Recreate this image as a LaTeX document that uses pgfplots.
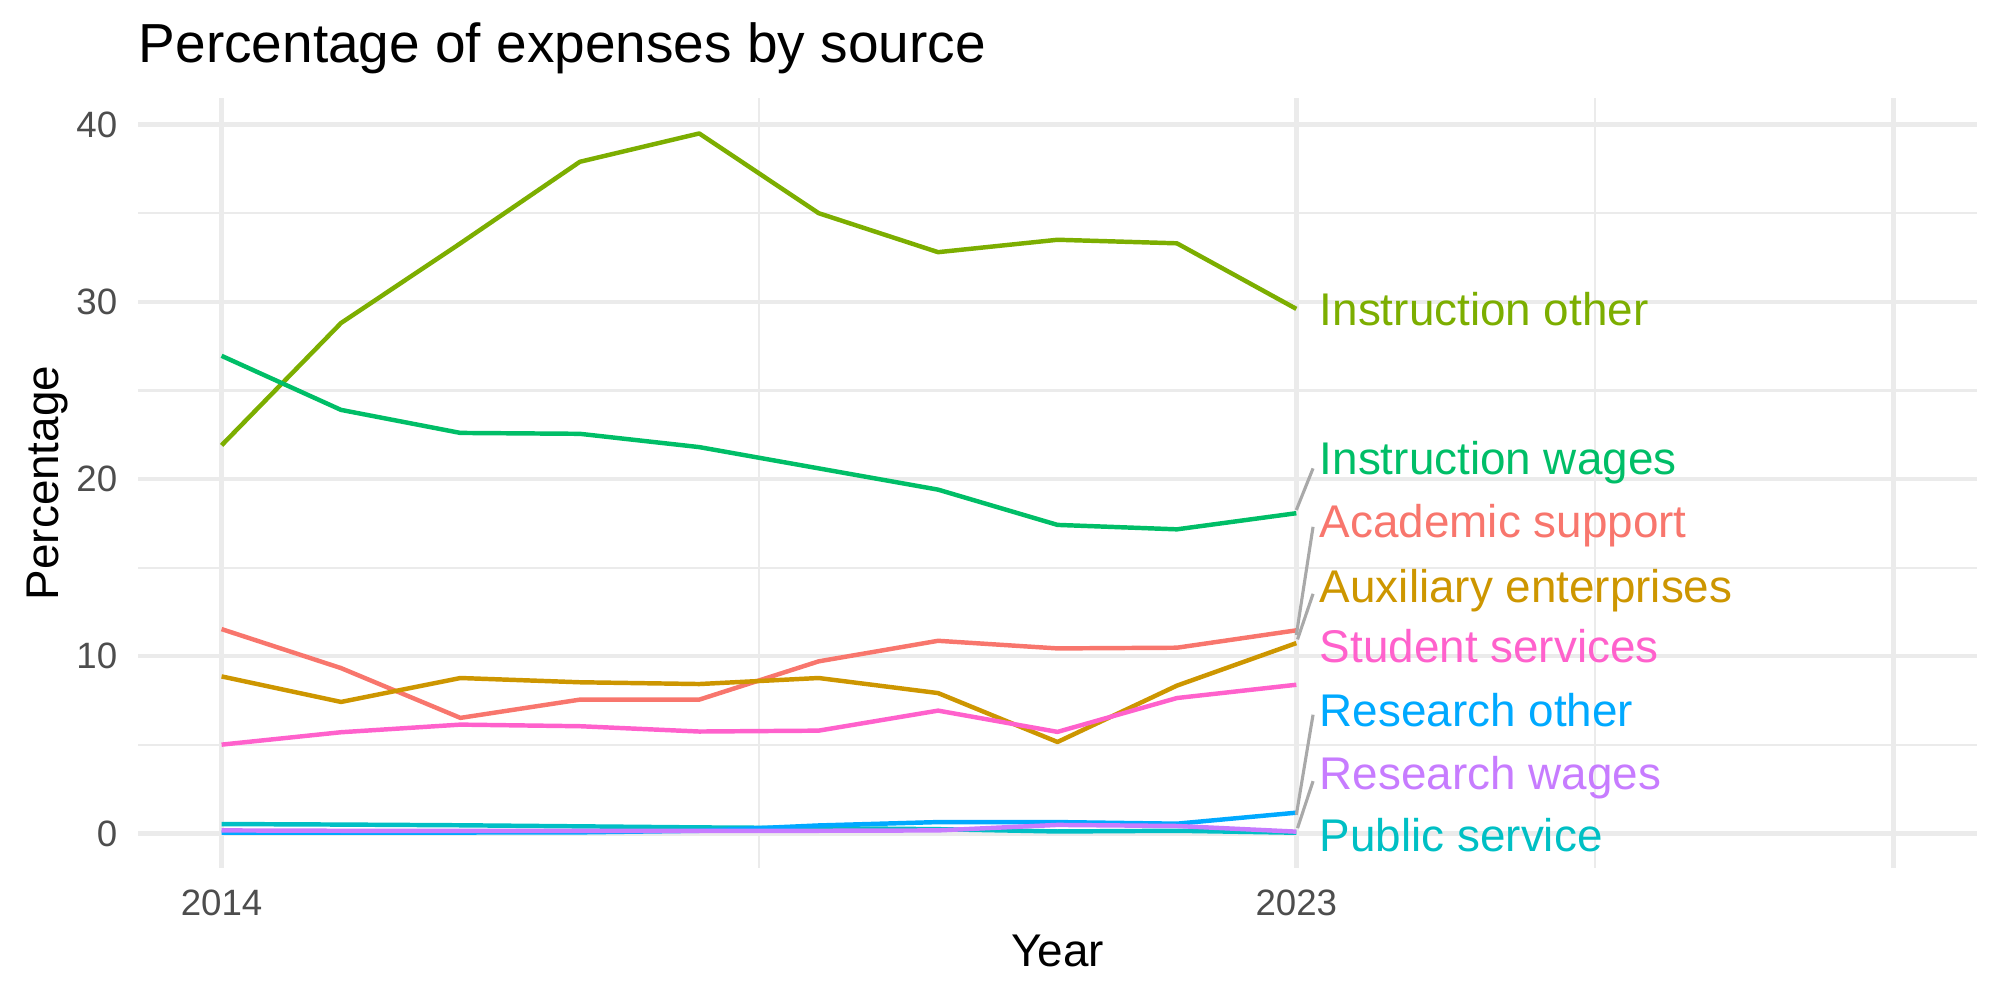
\documentclass[border=0pt]{standalone}
\usepackage{fontspec}
\setmainfont{Liberation Sans}
\usepackage{pgfplots}
\pgfplotsset{compat=1.18}

% ggplot-style hue palette and theme greys
\definecolor{gridgrey}{HTML}{EBEBEB}
\definecolor{ticktext}{HTML}{4D4D4D}
\definecolor{seggrey}{HTML}{A9A9A9}
\definecolor{cAcad}{HTML}{F8766D}
\definecolor{cAux}{HTML}{CD9600}
\definecolor{cInsO}{HTML}{7CAE00}
\definecolor{cInsW}{HTML}{00BE67}
\definecolor{cPub}{HTML}{00BFC4}
\definecolor{cResO}{HTML}{00A9FF}
\definecolor{cResW}{HTML}{C77CFF}
\definecolor{cStud}{HTML}{FF61CC}

\begin{document}
\begin{tikzpicture}
\begin{axis}[
  scale only axis,
  width=441.36pt, height=184.8pt,
  xmin=2013.3, xmax=2028.7,
  ymin=-1.95, ymax=41.5,
  xtick={2014,2023,2028}, xticklabels={2014,2023,{}},
  minor xtick={2018.5,2025.5},
  ytick={0,10,20,30,40}, yticklabels={0,10,20,30,40},
  minor ytick={5,15,25,35},
  grid=both,
  major grid style={draw=gridgrey, line width=1.07pt},
  minor grid style={draw=gridgrey, line width=0.53pt},
  axis line style={draw=none},
  major tick length=0pt, minor tick length=0pt,
  tick label style={font=\fontsize{8.8}{10}\selectfont, text=ticktext},
  xticklabel style={anchor=north, inner sep=0pt, yshift=-5pt},
  yticklabel style={anchor=east, inner sep=0pt, xshift=-4.8pt},
  title={Percentage of expenses by source},
  every axis title/.style={at={(rel axis cs:0,1)}, anchor=base west,
    yshift=8.4pt, inner sep=0pt, font=\fontsize{13.2}{15}\selectfont},
  xlabel={Year}, ylabel={Percentage},
  every axis x label/.style={at={(rel axis cs:0.5,0)}, yshift=-23.76pt,
    anchor=base, inner sep=0pt, font=\fontsize{11}{13}\selectfont},
  every axis y label/.style={at={(rel axis cs:0,0.5)}, xshift=-19.1pt,
    rotate=90, anchor=base, inner sep=0pt, font=\fontsize{11}{13}\selectfont},
  clip=false,
  every axis plot/.append style={line width=1.07pt, line join=round},
]
% Series, drawn in alphabetical order
\addplot[cAcad] coordinates {(2014,11.53)(2015,9.33)(2016,6.52)(2017,7.55)(2018,7.55)(2019,9.71)(2020,10.87)(2021,10.44)(2022,10.48)(2023,11.46)};
\addplot[cAux] coordinates {(2014,8.86)(2015,7.42)(2016,8.77)(2017,8.53)(2018,8.43)(2019,8.77)(2020,7.92)(2021,5.16)(2022,8.34)(2023,10.74)};
\addplot[cInsO] coordinates {(2014,21.9)(2015,28.8)(2016,33.3)(2017,37.9)(2018,39.5)(2019,35.0)(2020,32.8)(2021,33.5)(2022,33.3)(2023,29.6)};
\addplot[cInsW] coordinates {(2014,26.95)(2015,23.9)(2016,22.6)(2017,22.55)(2018,21.8)(2019,20.6)(2020,19.4)(2021,17.41)(2022,17.16)(2023,18.07)};
\addplot[cPub] coordinates {(2014,0.53)(2015,0.50)(2016,0.46)(2017,0.40)(2018,0.34)(2019,0.30)(2020,0.24)(2021,0.11)(2022,0.15)(2023,0.04)};
\addplot[cResO] coordinates {(2014,0.05)(2015,0.05)(2016,0.05)(2017,0.06)(2018,0.15)(2019,0.45)(2020,0.64)(2021,0.64)(2022,0.55)(2023,1.17)};
\addplot[cResW] coordinates {(2014,0.17)(2015,0.15)(2016,0.15)(2017,0.15)(2018,0.15)(2019,0.15)(2020,0.17)(2021,0.48)(2022,0.42)(2023,0.10)};
\addplot[cStud] coordinates {(2014,5.01)(2015,5.71)(2016,6.14)(2017,6.05)(2018,5.75)(2019,5.80)(2020,6.93)(2021,5.73)(2022,7.64)(2023,8.39)};

% Leader segments from the 2023 values to the repelled labels
\draw[seggrey, line width=0.75pt] (axis cs:2023.0,18.25) -- (axis cs:2023.14,20.6);
\draw[seggrey, line width=0.75pt] (axis cs:2023.0,11.2) -- (axis cs:2023.14,17.3);
\draw[seggrey, line width=0.75pt] (axis cs:2023.01,10.95) -- (axis cs:2023.14,13.52);
\draw[seggrey, line width=0.75pt] (axis cs:2023.0,1.05) -- (axis cs:2023.14,6.7);
\draw[seggrey, line width=0.75pt] (axis cs:2023.01,0.3) -- (axis cs:2023.14,2.95);

% Direct labels
\begin{scope}[every node/.style={anchor=base west, inner sep=0pt, font=\fontsize{11}{13}\selectfont}]
\node[text=cInsO] at (axis cs:2023.19,28.64) {Instruction other};
\node[text=cInsW] at (axis cs:2023.19,20.25) {Instruction wages};
\node[text=cAcad] at (axis cs:2023.19,16.68) {Academic support};
\node[text=cAux]  at (axis cs:2023.19,13.05) {Auxiliary enterprises};
\node[text=cStud] at (axis cs:2023.19,9.62)  {Student services};
\node[text=cResO] at (axis cs:2023.19,6.04)  {Research other};
\node[text=cResW] at (axis cs:2023.19,2.48)  {Research wages};
\node[text=cPub]  at (axis cs:2023.19,-1.02) {Public service};
\end{scope}
\end{axis}
\pgfresetboundingbox
\path (-33.12pt,-31.68pt) rectangle (446.88pt,208.32pt);
\end{tikzpicture}
\end{document}
